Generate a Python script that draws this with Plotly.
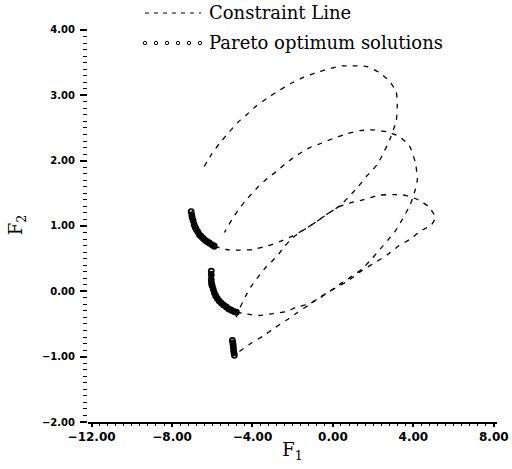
import plotly.graph_objects as go

# ---------------- data ----------------
# Constraint line 1 (upper loop)
c1_f1 = [-5.90, -5.30, -4.65, -4.00, -3.30, -2.65, -2.05, -1.40, -0.80, -0.25, 0.35, 0.80,
         1.25, 1.70, 2.20, 2.50, 2.85, 3.15, 3.20, 3.15, 2.80, 2.35, 1.70, 1.00, 0.45,
         -0.25, -0.90, -1.50, -2.10, -2.70, -3.25, -3.80, -4.30, -4.75, -5.15, -5.65, -6.05, -6.40]
c1_f2 = [0.69, 0.64, 0.63, 0.64, 0.69, 0.76, 0.84, 0.95, 1.07, 1.19, 1.31, 1.45,
         1.60, 1.77, 1.94, 2.11, 2.34, 2.61, 2.85, 3.05, 3.22, 3.34, 3.44, 3.45, 3.45,
         3.40, 3.34, 3.27, 3.18, 3.07, 2.96, 2.84, 2.70, 2.58, 2.44, 2.26, 2.09, 1.91]

# Constraint line 2 (middle loop)
c2_f1 = [-4.80, -4.25, -3.65, -3.00, -2.30, -1.80, -1.25, -0.75, -0.15, 0.35, 0.85, 1.45,
         1.85, 2.25, 2.75, 3.10, 3.45, 3.85, 4.10, 4.20, 4.10, 3.80, 3.30, 2.70, 2.00,
         1.35, 0.70, 0.10, -0.55, -1.15, -1.75, -2.30, -2.75, -3.25, -3.75, -4.25, -4.65, -5.00, -5.40]
c2_f2 = [-0.32, -0.35, -0.37, -0.34, -0.31, -0.24, -0.20, -0.12, 0.00, 0.11, 0.21, 0.34,
         0.47, 0.61, 0.79, 0.92, 1.10, 1.33, 1.56, 1.71, 1.97, 2.23, 2.37, 2.44, 2.47,
         2.46, 2.41, 2.35, 2.27, 2.20, 2.09, 1.97, 1.85, 1.73, 1.59, 1.42, 1.27, 1.11, 0.90]

# Constraint line 3 (lower loop)
c3_f1 = [-4.65, -4.05, -3.50, -2.90, -2.30, -1.75, -1.15, -0.65, 0.00, 0.70, 1.45, 2.20,
         2.70, 3.25, 3.80, 4.35, 4.90, 5.10, 4.75, 4.25, 3.60, 3.00, 2.25, 1.50, 0.95,
         0.35, -0.25, -0.80, -1.40, -2.00, -2.40, -2.80, -3.30, -3.70, -4.10, -4.35, -4.65, -4.90]
c3_f2 = [-0.92, -0.79, -0.69, -0.56, -0.44, -0.32, -0.20, -0.09, 0.03, 0.15, 0.32, 0.46,
         0.56, 0.69, 0.79, 0.92, 1.02, 1.13, 1.30, 1.40, 1.47, 1.48, 1.47, 1.40, 1.36,
         1.30, 1.19, 1.07, 0.95, 0.82, 0.69, 0.53, 0.38, 0.23, 0.06, -0.08, -0.27, -0.47]

# Pareto optimum solutions (three groups)
pa_f1 = [-7.05, -7.02, -7.00, -6.95, -6.90, -6.85, -6.80, -6.72, -6.65, -6.55, -6.45, -6.35, -6.25, -6.15, -6.05, -5.95, -5.90]
pa_f2 = [1.22, 1.17, 1.13, 1.08, 1.02, 0.98, 0.95, 0.91, 0.87, 0.84, 0.81, 0.78, 0.76, 0.74, 0.72, 0.70, 0.69]

pb_f1 = [-6.05, -6.05, -6.05, -6.04, -6.02, -6.00, -5.95, -5.90, -5.83, -5.75, -5.65, -5.55, -5.43, -5.30, -5.18, -5.05, -4.92, -4.80]
pb_f2 = [0.31, 0.25, 0.18, 0.13, 0.10, 0.08, 0.03, -0.02, -0.07, -0.11, -0.15, -0.18, -0.21, -0.24, -0.27, -0.29, -0.31, -0.32]

pc_f1 = [-5.00, -4.98, -4.96, -4.95, -4.94, -4.92, -4.90]
pc_f2 = [-0.75, -0.79, -0.82, -0.86, -0.90, -0.94, -0.98]

x_ticks = [-12, -8, -4, 0, 4, 8]
y_ticks = [-2, -1, 0, 1, 2, 3, 4]

legend_labels = ["Constraint Line", "Pareto optimum solutions"]

# ---------------- figure ----------------
W, H = 512, 469
ML, MR, MT, MB = 88, 15, 28, 47

fig = go.Figure()

for f1, f2 in [(c1_f1, c1_f2), (c2_f1, c2_f2), (c3_f1, c3_f2)]:
    fig.add_trace(go.Scatter(
        x=f1, y=f2, mode="lines",
        line=dict(color="black", width=1.3, dash="5px,6px", shape="spline", smoothing=0.5),
        showlegend=False, hoverinfo="skip"))

for f1, f2 in [(pa_f1, pa_f2), (pb_f1, pb_f2), (pc_f1, pc_f2)]:
    fig.add_trace(go.Scatter(
        x=f1, y=f2, mode="lines+markers",
        line=dict(color="black", width=3.5, shape="spline"),
        marker=dict(symbol="circle-open", size=5, color="black", line=dict(width=1.8, color="black")),
        showlegend=False, hoverinfo="skip"))


def px_to_paper_x(px):
    return (px - ML) / (W - ML - MR)


def py_to_paper_y(py):
    return (H - MB - py) / (H - MT - MB)


shapes = []
annotations = []

# legend: dashed line sample
shapes.append(dict(type="line", xref="paper", yref="paper",
                   x0=px_to_paper_x(145), x1=px_to_paper_x(201),
                   y0=py_to_paper_y(13), y1=py_to_paper_y(13),
                   line=dict(color="black", width=1.2, dash="4px,5px")))
# legend: row of small circles
for cx in [145, 156, 167, 178, 189, 200]:
    shapes.append(dict(type="circle", xref="paper", yref="paper",
                       xsizemode="pixel", ysizemode="pixel",
                       xanchor=px_to_paper_x(cx), yanchor=py_to_paper_y(43),
                       x0=-1.7, x1=1.7, y0=-1.7, y1=1.7,
                       line=dict(color="black", width=1)))

for text, py in zip(legend_labels, [13, 43]):
    annotations.append(dict(text=text, xref="paper", yref="paper",
                            x=px_to_paper_x(207), y=py_to_paper_y(py),
                            xanchor="left", yanchor="middle", showarrow=False,
                            font=dict(family="DejaVu Serif", size=18, color="black")))

fig.update_layout(
    width=W, height=H,
    margin=dict(l=ML, r=MR, t=MT, b=MB),
    paper_bgcolor="white", plot_bgcolor="white",
    showlegend=False,
    shapes=shapes, annotations=annotations,
    xaxis=dict(
        range=[-12.18, 8.16], tickvals=x_ticks, tickformat=".2f",
        showline=True, linecolor="black", linewidth=2,
        ticks="outside", ticklen=3, tickwidth=1.5, tickcolor="black",
        minor=dict(tick0=-12, dtick=0.4, ticks="outside", ticklen=2, tickwidth=1, tickcolor="black"),
        showgrid=False, zeroline=False, automargin=False,
        tickfont=dict(family="DejaVu Sans", size=12, color="black", weight="bold"),
        title=dict(text="F<sub>1</sub>", font=dict(family="DejaVu Serif", size=18, color="black"), standoff=0),
    ),
    yaxis=dict(
        range=[-2.0, 4.03], tickvals=y_ticks, tickformat=".2f",
        showline=False,
        ticks="outside", ticklen=7, tickwidth=1.5, tickcolor="black",
        minor=dict(tick0=0, dtick=0.1, ticks="outside", ticklen=4, tickwidth=1.2, tickcolor="black"),
        showgrid=False, zeroline=False, automargin=False,
        tickfont=dict(family="DejaVu Sans", size=10, color="black", weight="bold"),
        ticklabelstandoff=3,
        title=dict(text="F<sub>2</sub>", font=dict(family="DejaVu Serif", size=18, color="black"), standoff=14),
    ),
)

fig.write_html("out.html",
               config={"displayModeBar": False},
               post_script="document.body.style.margin='0';document.body.style.padding='0';")
